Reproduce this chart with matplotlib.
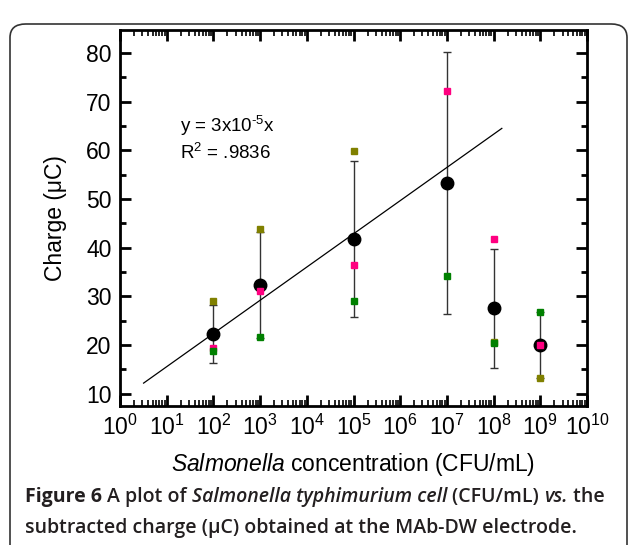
import numpy as np
import matplotlib
matplotlib.use('Agg')
from matplotlib import pyplot as plt
from matplotlib.patches import FancyBboxPatch
from matplotlib.ticker import LogLocator, MultipleLocator, NullFormatter

plt.rcParams['font.family'] = ['Liberation Sans', 'DejaVu Sans']
plt.rcParams['mathtext.fontset'] = 'custom'
plt.rcParams['mathtext.rm'] = 'Liberation Sans'
plt.rcParams['mathtext.it'] = 'Liberation Sans:italic'

# concentration (CFU/mL)
conc = [1e2, 1e3, 1e5, 1e7, 1e8, 1e9]
# mean charge and error
mean_q = [22.3, 32.3, 41.8, 53.2, 27.6, 20.0]
err_lo = [6.0, 10.8, 16.1, 26.9, 12.2, 6.7]
err_hi = [5.9, 11.0, 16.1, 26.9, 12.2, 6.9]
# individual runs
run_olive = [29.1, 43.9, 59.9, 53.4, 20.6, 13.3]
run_pink = [19.4, 31.1, 36.4, 72.1, 41.7, 20.0]
run_green = [18.8, 21.7, 29.0, 34.1, 20.5, 26.9]
# fitted line end points
fit_x = [3.2, 1.5e8]
fit_y = [12.2, 64.5]

fig = plt.figure(figsize=(6.29, 5.45), dpi=100)

# rounded frame round the figure
frame = FancyBboxPatch((10 / 629, -0.1), 617 / 629, (533 - 12) / 545 + 0.1,
                       boxstyle='round,pad=0,rounding_size=0.025',
                       transform=fig.transFigure, fill=False,
                       edgecolor='#333333', linewidth=1.2)
fig.patches.append(frame)

ax = fig.add_axes([120 / 629, 1 - 406 / 545, 467 / 629, 376 / 545])

ax.errorbar(conc, mean_q, yerr=[err_lo, err_hi], fmt='none', ecolor='#333333',
            elinewidth=1, capsize=3, capthick=1, zorder=2)
ax.plot(fit_x, fit_y, color='black', linewidth=0.9, zorder=3)
ax.plot(conc, run_olive, 's', color='#808000', markersize=5, linestyle='none', zorder=3.5)
ax.plot(conc, mean_q, 'o', color='black', markersize=9, linestyle='none', zorder=4)
ax.plot(conc, run_pink, 's', color='#ff0080', markersize=5, linestyle='none', zorder=5)
ax.plot(conc, run_green, 's', color='#008000', markersize=5, linestyle='none', zorder=6)

ax.set_xscale('log')
ax.set_xlim(1, 1e10)
ax.set_ylim(7.5, 84.7)
ax.xaxis.set_major_locator(LogLocator(base=10, numticks=20))
ax.xaxis.set_minor_locator(LogLocator(base=10, subs=np.arange(2, 10), numticks=20))
ax.xaxis.set_minor_formatter(NullFormatter())
ax.yaxis.set_major_locator(MultipleLocator(10))
ax.yaxis.set_minor_locator(MultipleLocator(5))

for s in ax.spines.values():
    s.set_linewidth(2)
ax.tick_params(which='both', direction='in', top=True, right=True, width=2)
ax.tick_params(which='major', length=8, labelsize=16.5, pad=6)
ax.tick_params(which='minor', length=4, width=1.2)
ax.tick_params(axis='y', which='minor', width=2)

ax.set_ylabel('Charge (\u03bcC)', fontsize=16.5, labelpad=14)
ax.set_xlabel(r'$\it{Salmonella}$ concentration (CFU/mL)', fontsize=16.5, labelpad=8)

ax.text(180 / 629, 1 - 126 / 545, 'y = 3x10$^{\u20105}$x', transform=fig.transFigure,
        fontsize=13.5, va='center', ha='left')
ax.text(180 / 629, 1 - 153 / 545, r'R$^{2}$ = .9836', transform=fig.transFigure,
        fontsize=13.5, va='center', ha='left')

# caption, written piece by piece
cap_col = '#231f20'
lines = [
    [('Figure 6 ', 'bold', 'normal'), ('A plot of ', 'semibold', 'normal'),
     ('Salmonella typhimurium cell ', 'semibold', 'italic'),
     ('(CFU/mL) ', 'semibold', 'normal'), ('vs.', 'semibold', 'italic'),
     (' the', 'semibold', 'normal')],
    [('subtracted charge (\u03bcC) obtained at the MAb-DW electrode.', 'semibold', 'normal')],
]
fig.canvas.draw()
renderer = fig.canvas.get_renderer()
for row, ypix in zip(lines, [497, 528]):
    x = 25 / 629
    for txt, wt, st in row:
        t = fig.text(x, 1 - ypix / 545, txt, fontsize=14, fontweight=wt, fontstyle=st,
                     family=['Open Sans', 'DejaVu Sans'], color=cap_col, va='center')
        bb = t.get_window_extent(renderer=renderer)
        x += bb.width / fig.bbox.width

fig.savefig('out.png', dpi=100)
